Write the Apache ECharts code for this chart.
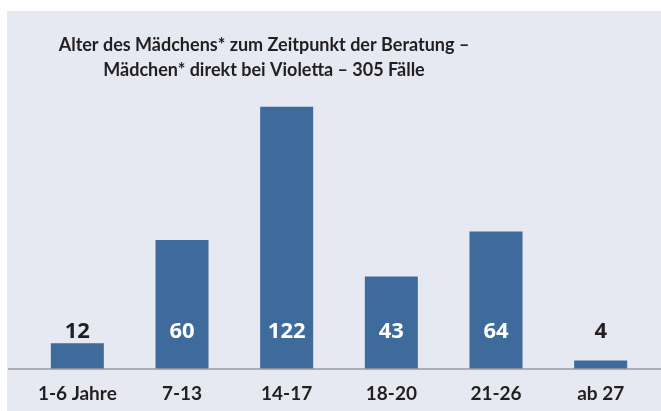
<!DOCTYPE html>
<html>
<head>
<meta charset="utf-8">
<script src="https://cdn.jsdelivr.net/npm/echarts@6/dist/echarts.min.js"></script>
<style>
  html, body { margin: 0; padding: 0; background: #fff; }
  #chart { width: 661px; height: 411px; }
</style>
</head>
<body>
<div id="chart"></div>
<script>
// Altersgruppen und Fallzahlen
const categories = ['1-6 Jahre', '7-13', '14-17', '18-20', '21-26', 'ab 27']
const cases = [12, 60, 122, 43, 64, 4]

const barColor = '#3f6a9c'
const panelColor = '#e6e8f2'

const chart = echarts.init(document.getElementById('chart'))

const option = {
  backgroundColor: '#fff',
  animation: false,
  title: {
    text: 'Alter des Mädchens* zum Zeitpunkt der Beratung –\nMädchen* direkt bei Violetta – 305 Fälle',
    left: 259,
    top: 28,
    textAlign: 'center',
    textStyle: {
      fontFamily: 'Lato',
      fontWeight: 'bold',
      fontSize: 18,
      lineHeight: 25,
      color: '#231f20'
    }
  },
  graphic: [
    {
      type: 'rect',
      z: -10,
      shape: { x: 7, y: 11, width: 660, height: 410 },
      style: { fill: panelColor }
    },
    {
      type: 'line',
      z: 10,
      shape: { x1: 8, y1: 369, x2: 661, y2: 369 },
      style: { stroke: '#9a9a9e', lineWidth: 1.5 }
    }
  ],
  grid: {
    left: 25,
    right: 8,
    top: 68,
    bottom: 42
  },
  xAxis: {
    type: 'category',
    data: categories,
    axisLine: { show: false },
    axisTick: { show: false },
    axisLabel: {
      margin: 15,
      fontFamily: 'Lato',
      fontWeight: 'bold',
      fontSize: 19,
      color: '#231f20'
    }
  },
  yAxis: {
    type: 'value',
    min: 0,
    max: 140,
    show: false,
    splitLine: { show: false }
  },
  series: [{
    type: 'bar',
    barWidth: 53,
    itemStyle: { color: barColor },
    data: cases.map(v => ({
      value: v,
      label: { color: v < 20 ? '#231f20' : '#ffffff' }
    })),
    label: {
      show: true,
      position: 'insideBottom',
      distance: 26,
      fontFamily: 'Open Sans',
      fontWeight: 'bold',
      fontSize: 22
    }
  }]
}

chart.setOption(option)
</script>
</body>
</html>
